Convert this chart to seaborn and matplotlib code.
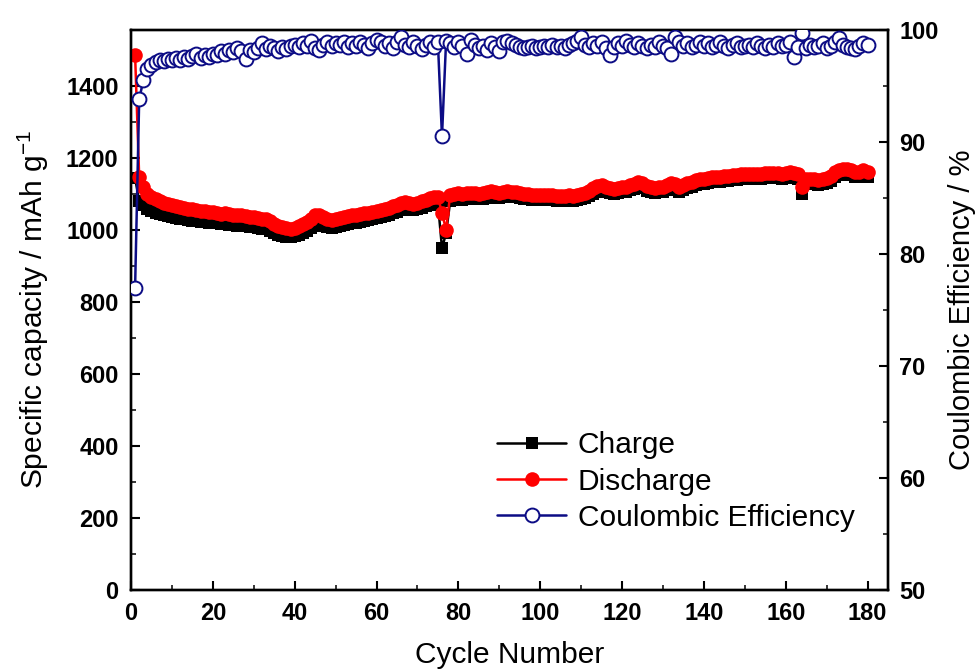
import matplotlib
matplotlib.use("Agg")
import matplotlib.pyplot as plt
import seaborn as sns
import numpy as np
from matplotlib.ticker import MultipleLocator

cycles = list(range(1, 181))

charge = [
    1144, 1080, 1068, 1058, 1052, 1048, 1044, 1041, 1038, 1035,
    1033, 1031, 1029, 1027, 1026, 1024, 1023, 1022, 1020, 1019,
    1018, 1016, 1017, 1014, 1013, 1011, 1012, 1010, 1008, 1007,
    1005, 1003, 1002, 998, 990, 986, 983, 981, 980, 983,
    987, 992, 998, 1006, 1015, 1018, 1012, 1008, 1006, 1008,
    1011, 1014, 1016, 1018, 1020, 1023, 1025, 1027, 1029, 1032,
    1036, 1038, 1042, 1046, 1050, 1054, 1058, 1057, 1054, 1057,
    1062, 1066, 1070, 1072, 1075, 950, 990, 1080, 1083, 1084,
    1084, 1086, 1085, 1087, 1085, 1087, 1090, 1093, 1089, 1088,
    1090, 1093, 1091, 1090, 1088, 1086, 1085, 1084, 1084, 1083,
    1082, 1084, 1083, 1081, 1080, 1081, 1082, 1080, 1084, 1086,
    1089, 1094, 1100, 1106, 1109, 1105, 1101, 1100, 1102, 1104,
    1106, 1110, 1114, 1118, 1115, 1108, 1104, 1101, 1104, 1106,
    1110, 1115, 1113, 1106, 1111, 1116, 1120, 1124, 1126, 1128,
    1130, 1132, 1134, 1134, 1136, 1136, 1138, 1139, 1140, 1141,
    1142, 1142, 1141, 1142, 1144, 1143, 1144, 1143, 1142, 1144,
    1146, 1144, 1141, 1100, 1126, 1128, 1126, 1124, 1126, 1131,
    1136, 1146, 1151, 1154, 1156, 1152, 1146, 1148, 1151, 1146,
]

discharge = [
    1486, 1147, 1118, 1100, 1092, 1085, 1080, 1076, 1072, 1068,
    1066, 1063, 1060, 1058, 1057, 1055, 1053, 1052, 1050, 1049,
    1047, 1045, 1046, 1043, 1042, 1040, 1041, 1038, 1036, 1035,
    1033, 1031, 1030, 1025, 1016, 1012, 1008, 1005, 1003, 1006,
    1010, 1015, 1022, 1030, 1040, 1042, 1035, 1030, 1028, 1030,
    1033, 1036, 1038, 1040, 1042, 1044, 1046, 1048, 1050, 1052,
    1056, 1058, 1062, 1066, 1070, 1074, 1078, 1076, 1072, 1075,
    1080, 1084, 1088, 1090, 1092, 1047, 1000, 1098, 1100, 1101,
    1100, 1102, 1101, 1103, 1100, 1102, 1105, 1108, 1104, 1103,
    1105, 1108, 1106, 1104, 1102, 1100, 1099, 1098, 1098, 1097,
    1096, 1098, 1097, 1095, 1094, 1095, 1096, 1094, 1098, 1100,
    1103, 1108, 1115, 1122, 1125, 1120, 1116, 1114, 1116, 1118,
    1120, 1124, 1128, 1133, 1130, 1122, 1118, 1115, 1118, 1120,
    1124, 1130, 1128, 1120, 1125, 1130, 1134, 1138, 1140, 1142,
    1144, 1146, 1148, 1148, 1150, 1150, 1152, 1153, 1154, 1155,
    1156, 1156, 1155, 1156, 1158, 1157, 1158, 1157, 1156, 1158,
    1160, 1158, 1155, 1120, 1140, 1142, 1140, 1138, 1140, 1145,
    1150, 1160, 1165, 1168, 1170, 1166, 1160, 1162, 1165, 1160,
]

efficiency = [
    77.0, 93.8, 95.5, 96.5, 96.9, 97.1, 97.3, 97.2, 97.4, 97.3,
    97.5, 97.3, 97.6, 97.4, 97.7, 97.9, 97.5, 97.8, 97.6, 97.9,
    97.8, 98.1, 97.9, 98.2, 98.0, 98.4, 98.1, 97.4, 98.2, 98.0,
    98.4, 98.8, 98.3, 98.6, 98.4, 98.1, 98.5, 98.3, 98.6, 98.7,
    98.5, 98.8, 98.6, 99.0, 98.4, 98.2, 98.7, 98.9, 98.6, 98.8,
    98.7, 98.9, 98.5, 98.8, 98.6, 98.9, 98.7, 98.4, 98.8, 99.1,
    98.9, 98.6, 98.8, 98.4, 98.9, 99.4, 98.7, 98.5, 98.9, 98.6,
    98.3, 98.7, 98.9, 98.5, 98.9, 90.5, 99.0, 98.8, 98.5, 98.9,
    98.6, 97.9, 99.1, 98.7, 98.4, 98.6, 98.2, 98.8, 98.5, 98.1,
    98.9, 99.0, 98.8, 98.7, 98.5, 98.4, 98.5, 98.6, 98.4, 98.5,
    98.6, 98.5, 98.7, 98.5, 98.6, 98.4, 98.7, 98.8, 99.0, 99.4,
    98.7, 98.5, 98.8, 98.6, 98.9, 98.4, 97.8, 98.5, 98.8, 98.6,
    99.0, 98.7, 98.5, 98.8, 98.6, 98.4, 98.7, 98.5, 98.9, 98.6,
    98.4, 97.9, 99.4, 98.9, 98.6, 98.8, 98.5, 98.7, 98.9, 98.6,
    98.8, 98.5, 98.7, 98.9, 98.6, 98.4, 98.7, 98.8, 98.5, 98.6,
    98.7, 98.5, 98.8, 98.6, 98.4, 98.7, 98.5, 98.8, 98.6, 98.7,
    98.9, 97.6, 98.5, 99.7, 98.4, 98.7, 98.5, 98.6, 98.8, 98.4,
    98.6, 98.9, 99.3, 98.7, 98.5, 98.4, 98.3, 98.6, 98.8, 98.7,
]

x_ticks = [0, 20, 40, 60, 80, 100, 120, 140, 160, 180]
y_ticks = [0, 200, 400, 600, 800, 1000, 1200, 1400]
ce_ticks = [50, 60, 70, 80, 90, 100]

sns.set_theme(style="ticks")
plt.rcParams["font.family"] = ["Liberation Sans", "DejaVu Sans"]
plt.rcParams["mathtext.fontset"] = "custom"
plt.rcParams["mathtext.rm"] = "Liberation Sans"
plt.rcParams["mathtext.it"] = "Liberation Sans"
plt.rcParams["text.color"] = "black"
plt.rcParams["axes.labelcolor"] = "black"

fig = plt.figure(figsize=(9.8, 6.7), dpi=100)
ax = fig.add_axes([131 / 980, 1 - 590 / 670, (888 - 131) / 980, (590 - 30) / 670])
ax2 = ax.twinx()

navy = "#0c0c85"

sns.lineplot(x=cycles, y=charge, ax=ax, color="black", marker="s", markersize=9,
             markeredgewidth=0, linewidth=1.8, label="Charge", errorbar=None, zorder=3)
sns.lineplot(x=cycles, y=discharge, ax=ax, color="#ff0000", marker="o", markersize=10.5,
             markeredgewidth=0, linewidth=1.8, label="Discharge", errorbar=None, zorder=4)
sns.lineplot(x=cycles, y=efficiency, ax=ax2, color=navy, marker="o", markersize=10,
             markerfacecolor="white", markeredgecolor=navy, markeredgewidth=1.4,
             linewidth=1.8, label="Coulombic Efficiency", errorbar=None, zorder=5)

ax.set_xlim(0, 185)
ax.set_ylim(0, 1555)
ax2.set_ylim(50, 100)

ax.set_xticks(x_ticks)
ax.set_yticks(y_ticks)
ax2.set_yticks(ce_ticks)
ax.xaxis.set_minor_locator(MultipleLocator(10))
ax.yaxis.set_minor_locator(MultipleLocator(100))
ax2.yaxis.set_minor_locator(MultipleLocator(5))

for a in (ax, ax2):
    for sp in a.spines.values():
        sp.set_linewidth(1.7)
        sp.set_color("black")
        sp.set_visible(True)

ax.tick_params(axis="both", which="major", direction="in", length=6.5, width=1.5,
               pad=9, labelsize=17, top=False, right=False, colors="black")
ax.tick_params(axis="both", which="minor", direction="in", length=3.5, width=1.3,
               top=False, right=False)
ax2.tick_params(axis="y", which="major", direction="in", length=6.5, width=1.5,
                pad=8, labelsize=17, colors="black")
ax2.tick_params(axis="y", which="minor", direction="in", length=3.5, width=1.3)
for lab in ax.get_xticklabels() + ax.get_yticklabels() + ax2.get_yticklabels():
    lab.set_fontweight("bold")

ax.set_xlabel("Cycle Number", fontsize=21.5, labelpad=11, color="black")
ax.set_ylabel("Specific capacity / mAh g$^{-1}$", fontsize=21.5, labelpad=11, color="black")
ax2.set_ylabel("Coulombic Efficiency / %", fontsize=21, labelpad=7, color="black")

h1, l1 = ax.get_legend_handles_labels()
h2, l2 = ax2.get_legend_handles_labels()
if ax.get_legend() is not None:
    ax.get_legend().remove()
if ax2.get_legend() is not None:
    ax2.get_legend().remove()
leg = ax2.legend(h1 + h2, l1 + l2, loc="upper left", bbox_to_anchor=(0.468, 0.305),
                 frameon=False, fontsize=21.5, handlelength=2.3, handletextpad=0.4,
                 labelspacing=0.28, borderaxespad=0)
for t in leg.get_texts():
    t.set_color("black")

fig.savefig("out.png", dpi=100, facecolor="white")
